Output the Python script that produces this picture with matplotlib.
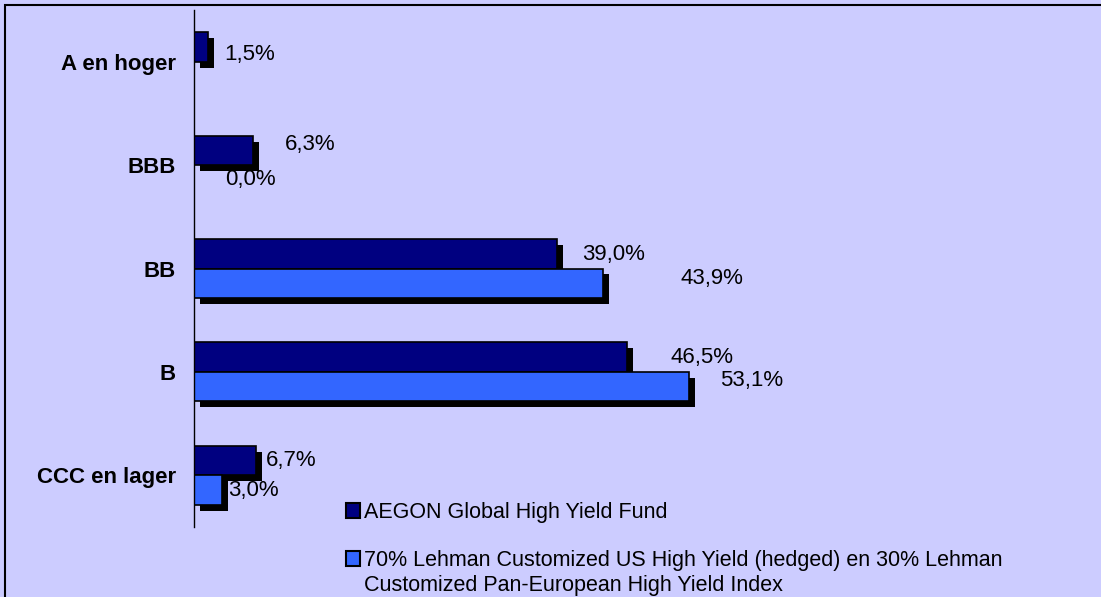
import numpy as np
import matplotlib
matplotlib.use("Agg")
import matplotlib.pyplot as plt
import matplotlib.patheffects as pe
from matplotlib.patches import Patch
from matplotlib.text import Annotation

plt.rcParams['font.family'] = ['Liberation Sans', 'DejaVu Sans']

categories = ["A en hoger", "BBB", "BB", "B", "CCC en lager"]
fund = [1.5, 6.3, 39.0, 46.5, 6.7]
index = [np.nan, 0.0, 43.9, 53.1, 3.0]
fund_labels = ["1,5%", "6,3%", "39,0%", "46,5%", "6,7%"]
index_labels = ["", "0,0%", "43,9%", "53,1%", "3,0%"]
series_names = ["AEGON Global High Yield Fund",
                "70% Lehman Customized US High Yield (hedged) en 30% Lehman"]
series2_cont = "Customized Pan-European High Yield Index"

# label offsets in pixels from the bar end (as placed in the original)
fund_off = [(16, -8), (32, 6), (25, -1), (43, 0), (9, 0)]
index_off = [(0, 0), (31, 0), (77, 5), (31, 6), (6, 0)]

BG = "#CCCCFF"
NAVY = "#000080"
BLUE = "#3366FF"

W, H = 1101, 597
fig = plt.figure(figsize=(W / 100, H / 100), dpi=100, facecolor=BG)
ax = fig.add_axes([194 / W, 1 - 527 / H, (W - 194) / W, (527 - 10) / H])
ax.set_facecolor(BG)

y = np.arange(len(categories))
h = 0.285
shadow = [pe.SimplePatchShadow(offset=(4.3, -4.3), shadow_rgbFace="black", alpha=1.0), pe.Normal()]

b1 = ax.barh(y - h / 2, fund, height=h, color=NAVY, edgecolor="black", linewidth=1.2)
b2 = ax.barh(y + h / 2, np.nan_to_num(index), height=h, color=BLUE, edgecolor="black", linewidth=1.2)
for bar in b1:
    bar.set_path_effects(shadow)
for i, bar in enumerate(b2):
    if np.isnan(index[i]) or index[i] == 0:
        bar.set_visible(False)
    else:
        bar.set_path_effects(shadow)

for i in range(len(categories)):
    ax.annotate(fund_labels[i], xy=(fund[i], y[i] - h / 2), xytext=fund_off[i],
                textcoords="offset pixels", ha="left", va="center", fontsize=16)
    if index_labels[i]:
        ax.annotate(index_labels[i], xy=(index[i], y[i] + h / 2), xytext=index_off[i],
                    textcoords="offset pixels", ha="left", va="center", fontsize=16)

ax.set_xlim(0, (W - 194) / 9.32)
ax.set_ylim(len(categories) - 0.5, -0.5)
ax.set_yticks(y)
ax.set_yticklabels(categories, fontsize=16, fontweight="bold")
ax.tick_params(axis="y", length=0, pad=13)
ax.set_xticks([])
for s in ["top", "right", "bottom"]:
    ax.spines[s].set_visible(False)
ax.spines["left"].set_linewidth(1.0)

handles = [Patch(facecolor=NAVY, edgecolor="black", linewidth=1.5),
           Patch(facecolor=BLUE, edgecolor="black", linewidth=1.5)]
leg = fig.legend(handles=handles, labels=series_names, loc="upper left",
                 bbox_to_anchor=(346 / W, 1 - 502 / H), frameon=False, fontsize=15.5,
                 handlelength=0.65, handleheight=0.65, handletextpad=0.2,
                 labelspacing=1.25, borderpad=0, borderaxespad=0)
# wrapped second line of the second legend entry (drawn after the legend)
cont = Annotation(series2_cont, xy=(0, 0), xycoords=leg.get_texts()[1], xytext=(0, -25),
                  textcoords="offset pixels", ha="left", va="bottom", fontsize=15.5,
                  annotation_clip=False, zorder=10)
fig.add_artist(cont)

fig.patches.append(plt.Rectangle((4.5 / W, -0.1), 2, 1 - 4.5 / H + 0.1, transform=fig.transFigure,
                                 fill=False, edgecolor="black", linewidth=1.5))

fig.savefig("out.png", dpi=100, facecolor=BG)
